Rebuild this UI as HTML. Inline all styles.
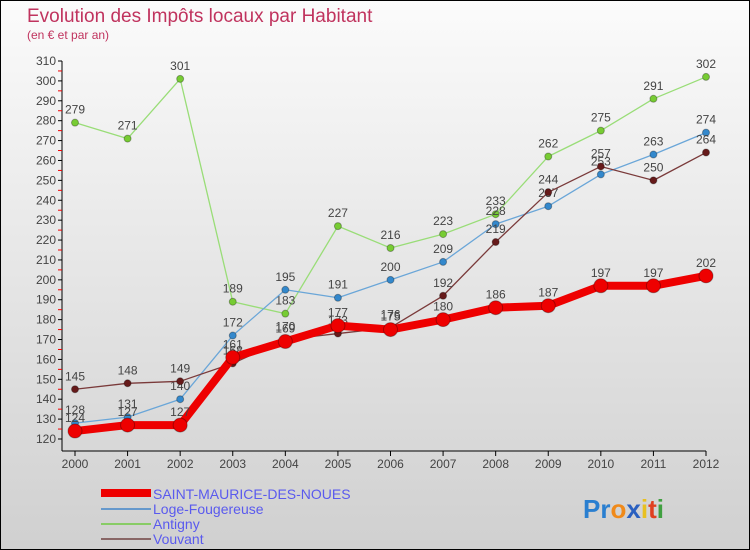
<!DOCTYPE html>
<html><head><meta charset="utf-8"><style>
html,body{margin:0;padding:0}
body{width:750px;height:550px;overflow:hidden;font-family:"Liberation Sans",sans-serif}
#wrap{position:relative;width:748px;height:548px;border:1px solid #000;background:linear-gradient(#fbfbfb,#d0d0d0)}
</style></head><body>
<div id="wrap">
<svg id="chart" width="748" height="548" style="position:absolute;left:0;top:0">
<text x="26" y="21" font-size="19" fill="#c0335e">Evolution des Impôts locaux par Habitant</text>
<text x="26" y="38" font-size="12" fill="#c0335e">(en € et par an)</text>
<g id="axes"></g><g id="series"></g>
<g id="legend" font-size="14" fill="#5555ee">
<rect x="100" y="488" width="50" height="8" fill="#ee0000"/>
<text x="152" y="498" fill="#5a5aee">SAINT-MAURICE-DES-NOUES</text>
<rect x="100" y="507" width="50" height="2" fill="#6699cc"/>
<text x="152" y="513" fill="#5a5aee">Loge-Fougereuse</text>
<rect x="100" y="522" width="50" height="2" fill="#88cc66"/>
<text x="152" y="528" fill="#5a5aee">Antigny</text>
<rect x="100" y="537" width="50" height="2" fill="#886666"/>
<text x="152" y="543" fill="#5a5aee">Vouvant</text>
</g>
<text x="582" y="517" font-size="26" font-weight="bold"><tspan fill="#2a7fd0">Pr</tspan><tspan fill="#f08a1a">o</tspan><tspan fill="#2a60c0">x</tspan><tspan fill="#e8c020">i</tspan><tspan fill="#e04020">t</tspan><tspan fill="#40a040">i</tspan></text>
</svg>
</div>
<script>
const years=[2000,2001,2002,2003,2004,2005,2006,2007,2008,2009,2010,2011,2012];
const smdn=[124,127,127,161,169,177,175,180,186,187,197,197,202];
const loge=[128,131,140,172,195,191,200,209,228,237,253,263,274];
const antigny=[279,271,301,189,183,227,216,223,233,262,275,291,302];
const vouvant=[145,148,149,158,170,173,176,192,219,244,257,250,264];
const yTicks=[120,130,140,150,160,170,180,190,200,210,220,230,240,250,260,270,280,290,300,310];
const NS="http://www.w3.org/2000/svg";
const xS=i=>74+i*(631/12);
const yS=v=>438-(v-120)*(378/190);
function mk(tag,attrs,parent,txt){const e=document.createElementNS(NS,tag);for(const k in attrs)e.setAttribute(k,attrs[k]);if(txt!==undefined)e.textContent=txt;parent.appendChild(e);return e;}
const ax=document.getElementById('axes');
let a=mk('line',{x1:61,y1:yS(310),x2:61,y2:450,stroke:'#000'},ax);

a=mk('line',{x1:61,y1:450,x2:xS(12),y2:450,stroke:'#000'},ax);

yTicks.forEach(v=>{
 mk('line',{x1:57,y1:yS(v),x2:61,y2:yS(v),stroke:'#000'},ax);
 if(v<310)mk('line',{x1:57,y1:yS(v+5),x2:61,y2:yS(v+5),stroke:'#e00'},ax);
 const t=mk('text',{x:55,y:yS(v)+4,'text-anchor':'end','font-size':12,fill:'#444'},ax,v);
 
});
years.forEach((y,i)=>{
 mk('line',{x1:xS(i),y1:450,x2:xS(i),y2:455,stroke:'#000'},ax);
 const t=mk('text',{x:xS(i),y:467,'text-anchor':'middle','font-size':12,fill:'#444'},ax,y);
 
});
const sg=document.getElementById('series');
function draw(data,name,color,w,r,dot){
 const g=mk('g',{},sg);
 
 const p=mk('polyline',{points:data.map((v,i)=>xS(i)+','+yS(v)).join(' '),fill:'none',stroke:color,'stroke-width':w,'stroke-linejoin':'round'},g);
 
 data.forEach((v,i)=>{
  const c=mk('circle',{cx:xS(i),cy:yS(v),r:r,fill:dot,stroke:'rgba(0,0,0,0.3)'},g);
  
  const t=mk('text',{x:xS(i),y:yS(v)-9,'text-anchor':'middle','font-size':12,fill:'#444'},g,v);
  
 });
}
draw(antigny,'antigny','#99dd77',1.3,3.5,'#77cc33');
draw(loge,'loge-fougereuse','#6aa6d8',1.3,3.5,'#3388cc');
draw(vouvant,'vouvant','#7a3a3a',1.3,3.5,'#661a1a');
draw(smdn,'saint-maurice-des-noues','#ee0000',8,7,'#ee0000');
</script>
</body></html>
